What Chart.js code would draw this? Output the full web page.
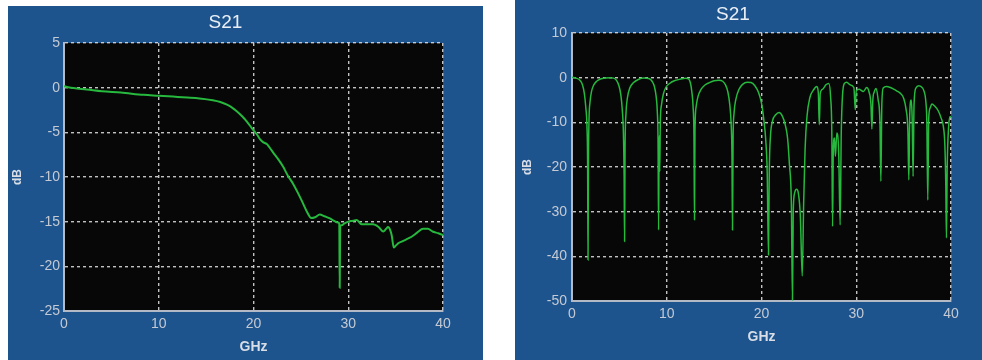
<!DOCTYPE html>
<html>
<head>
<meta charset="utf-8">
<script src="https://cdn.jsdelivr.net/npm/chart.js@4.4.1/dist/chart.umd.min.js"></script>
<style>
  html, body { margin: 0; padding: 0; background: #ffffff; }
  body { width: 982px; height: 360px; position: relative; overflow: hidden; }
  .panel { position: absolute; background: #1e548e; }
  #panelL { left: 8px; top: 6px; width: 475px; height: 354px; }
  #panelR { left: 515px; top: 0px; width: 467px; height: 360px; }
  canvas { display: block; }
</style>
</head>
<body>
<div class="panel" id="panelL"><canvas id="chartL" width="475" height="354"></canvas></div>
<div class="panel" id="panelR"><canvas id="chartR" width="467" height="360"></canvas></div>
<script>
// Axis ticks
const freqTicks = [0, 10, 20, 30, 40];
const dbTicksL = [-25, -20, -15, -10, -5, 0, 5];
const dbTicksR = [-50, -40, -30, -20, -10, 0, 10];

// S21 of the low-pass channel (GHz, dB)
const freqL = [0, 1, 2.4, 4, 6, 8.4, 10, 11.5, 13, 14.3, 15.7, 16.5, 17.2, 17.7, 18.2, 18.8, 19.3, 19.8, 20.1, 20.4, 20.7, 21.0, 21.4, 21.7, 22.1, 22.6, 23.1, 23.6, 24.2, 24.7, 25.2, 25.6, 26.1, 26.5, 27.0, 27.5, 28.0, 28.5, 28.9, 29.05, 29.1, 29.15, 29.3, 29.6, 30.0, 30.5, 30.9, 31.4, 32.0, 32.6, 33.2, 33.7, 34.0, 34.2, 34.45, 34.6, 34.8, 35.0, 35.3, 35.7, 36.1, 36.5, 36.8, 37.3, 37.9, 38.4, 38.9, 39.5, 40];
const dbL   = [0.15, -0.05, -0.2, -0.4, -0.55, -0.8, -0.9, -1.0, -1.1, -1.2, -1.4, -1.6, -1.9, -2.2, -2.6, -3.2, -3.8, -4.5, -4.9, -5.3, -5.8, -6.1, -6.3, -6.7, -7.3, -8.0, -8.8, -9.8, -10.8, -11.8, -12.9, -13.8, -14.6, -14.5, -14.2, -14.4, -14.6, -14.9, -15.1, -15.2, -22.4, -15.5, -15.4, -15.2, -15.0, -14.9, -14.8, -15.3, -15.3, -15.3, -15.6, -16.1, -15.8, -15.6, -16.0, -16.6, -17.9, -17.7, -17.4, -17.2, -17.0, -16.8, -16.6, -16.2, -15.8, -15.8, -16.1, -16.3, -16.5];

// S21 of the resonant channel (GHz, dB)
const freqR = [0, 0.4, 0.8, 1.1, 1.3, 1.45, 1.58, 1.65, 1.69, 1.74, 1.8, 1.9, 2.05, 2.3, 2.6, 3.0, 3.5, 4.0, 4.4, 4.7, 4.95, 5.15, 5.3, 5.42, 5.5, 5.55, 5.6, 5.7, 5.85, 6.1, 6.5, 7.0, 7.6, 8.1, 8.45, 8.7, 8.88, 9.0, 9.08, 9.14, 9.2, 9.26, 9.32, 9.45, 9.65, 9.9, 10.3, 10.8, 11.4, 12.0, 12.3, 12.5, 12.65, 12.78, 12.87, 12.93, 12.98, 13.1, 13.3, 13.6, 14.0, 14.5, 15.0, 15.5, 15.9, 16.2, 16.45, 16.65, 16.8, 16.88, 16.94, 17.0, 17.1, 17.3, 17.6, 18.0, 18.5, 18.9, 19.3, 19.7, 20.0, 20.25, 20.45, 20.6, 20.74, 20.82, 20.95, 21.15, 21.5, 21.85, 22.2, 22.5, 22.75, 22.95, 23.15, 23.27, 23.35, 23.5, 23.7, 23.9, 24.1, 24.3, 24.45, 24.6, 24.8, 25.1, 25.5, 25.85, 26.0, 26.1, 26.2, 26.45, 26.8, 27.1, 27.3, 27.42, 27.5, 27.58, 27.7, 27.8, 27.95, 28.15, 28.3, 28.42, 28.55, 28.75, 29.0, 29.35, 29.75, 29.9, 30.0, 30.3, 30.75, 31.1, 31.35, 31.55, 31.65, 31.75, 31.9, 32.1, 32.3, 32.5, 32.6, 32.7, 32.85, 33.2, 33.6, 33.9, 34.3, 34.7, 35.0, 35.25, 35.45, 35.55, 35.65, 35.8, 35.9, 36.0, 36.1, 36.3, 36.6, 36.9, 37.15, 37.35, 37.45, 37.55, 37.65, 37.8, 37.98, 38.3, 38.65, 38.95, 39.2, 39.35, 39.45, 39.52, 39.6, 39.75, 39.9, 40];
const dbR   = [0.1, -0.1, -0.5, -1.6, -3.5, -6.5, -11, -20, -40.8, -18, -9, -5.5, -3.2, -1.6, -0.8, -0.3, -0.05, 0, -0.1, -0.6, -1.8, -3.8, -7, -12, -22, -36.7, -16, -8, -4.5, -2.3, -1.1, -0.4, -0.1, -0.2, -0.8, -2.0, -4.2, -7.5, -14, -34.1, -13, -21, -10, -6, -3.6, -2.2, -1.3, -0.7, -0.35, -0.15, -0.3, -1.2, -3.2, -6.5, -13, -31.8, -12, -6.5, -4.2, -2.7, -1.7, -1.1, -0.7, -0.6, -0.8, -1.6, -3.2, -6, -10.5, -17, -34.1, -14, -8, -4.8, -2.7, -1.5, -1.0, -1.1, -1.8, -3.4, -5.7, -9.5, -14, -21, -39.7, -21, -13, -9.8, -8.3, -7.8, -8.6, -10.5, -13.5, -19.5, -28, -49.8, -30, -25.8, -25.0, -26, -31, -44.4, -28, -16, -8.7, -4.5, -2.7, -2.0, -3.5, -10.5, -3.5, -2.6, -1.6, -1.3, -4.5, -12, -33.3, -16, -13.5, -17.6, -12.4, -17, -33, -12, -4, -1.3, -1.0, -1.6, -2.2, -7.2, -3.0, -2.6, -3.1, -2.2, -3.2, -6, -11.5, -5, -3.2, -2.4, -4.8, -10, -23.2, -6, -2.3, -2.0, -2.2, -2.5, -3.0, -3.6, -4.6, -7, -12, -22.9, -8, -5, -9, -22.1, -6, -2.3, -1.8, -2.1, -3.0, -5.5, -10, -27.4, -9, -6.8, -5.9, -6.4, -7.4, -9, -11, -15, -24, -35.9, -20, -11, -8.7, -8.9];

const FONT = "'Liberation Sans', Arial, sans-serif";
const TICK_COLOR = '#c4cad3';
const GRID_COLOR = 'rgba(215,215,215,0.9)';
const BORDER_COLOR = '#b3bac6';
const TRACE_COLOR = '#27b83e';

// Black plotting field behind the grid
const plotField = {
  id: 'plotField',
  beforeDraw(chart) {
    const { ctx, chartArea: a } = chart;
    ctx.save();
    ctx.fillStyle = '#070707';
    ctx.fillRect(a.left, a.top, a.right - a.left, a.bottom - a.top);
    ctx.restore();
  }
};

function pairs(xs, ys) {
  return xs.map((x, i) => ({ x: x, y: ys[i] }));
}

function makeChart(id, xs, ys, yTicks, cfg) {
  const yMin = yTicks[0];
  const yMax = yTicks[yTicks.length - 1];
  return new Chart(document.getElementById(id), {
    type: 'line',
    data: {
      datasets: [{
        data: pairs(xs, ys),
        borderColor: TRACE_COLOR,
        borderWidth: cfg.lineWidth,
        pointRadius: 0,
        fill: false,
        tension: 0,
        cubicInterpolationMode: 'monotone'
      }]
    },
    options: {
      responsive: false,
      animation: false,
      devicePixelRatio: 1,
      layout: { padding: { left: 0, right: cfg.rightPad, top: 0, bottom: 0 } },
      plugins: {
        legend: { display: false },
        tooltip: { enabled: false },
        title: {
          display: true,
          text: 'S21',
          color: '#eaeff6',
          font: { family: FONT, size: 19, weight: 'normal', lineHeight: 1.2 },
          padding: { top: cfg.titleTop, bottom: cfg.titleBottom }
        }
      },
      scales: {
        x: {
          type: 'linear',
          min: freqTicks[0],
          max: freqTicks[freqTicks.length - 1],
          afterBuildTicks: s => { s.ticks = freqTicks.map(v => ({ value: v })); },
          afterFit: s => { s.height = cfg.xAxisHeight; },
          ticks: { color: TICK_COLOR, font: { family: FONT, size: 14 }, padding: 5, maxRotation: 0 },
          grid: { color: GRID_COLOR, lineWidth: 1.4, drawTicks: false },
          border: { color: BORDER_COLOR, width: 2, dash: [3, 3] },
          title: {
            display: true, text: 'GHz', color: '#d9dee6',
            font: { family: FONT, size: 14, weight: 'bold', lineHeight: 1.2 },
            padding: { top: 0, bottom: cfg.xTitleBottom }
          }
        },
        y: {
          type: 'linear',
          min: yMin,
          max: yMax,
          afterBuildTicks: s => { s.ticks = yTicks.map(v => ({ value: v })); },
          afterFit: s => { s.width = cfg.yAxisWidth; },
          ticks: { color: TICK_COLOR, font: { family: FONT, size: 14 }, padding: cfg.yTickPad },
          grid: { color: GRID_COLOR, lineWidth: 1.4, drawTicks: false },
          border: { color: BORDER_COLOR, width: 2, dash: [3, 3] },
          title: {
            display: true, text: 'dB', color: '#d9dee6',
            font: { family: FONT, size: 12, weight: 'bold', lineHeight: 1.2 },
            padding: { top: cfg.yTitleTop, bottom: 0 }
          }
        }
      }
    },
    plugins: [plotField]
  });
}

makeChart('chartL', freqL, dbL, dbTicksL, {
  lineWidth: 2, rightPad: 40, titleTop: 5.6, titleBottom: 8.6,
  xAxisHeight: 49, yAxisWidth: 56, xTitleBottom: 4.6, yTitleTop: 2.8, yTickPad: 4
});
makeChart('chartR', freqR, dbR, dbTicksR, {
  lineWidth: 1.5, rightPad: 31, titleTop: 3.6, titleBottom: 6.6,
  xAxisHeight: 59, yAxisWidth: 57, xTitleBottom: 14.6, yTitleTop: 5.5, yTickPad: 5
});
</script>
</body>
</html>
